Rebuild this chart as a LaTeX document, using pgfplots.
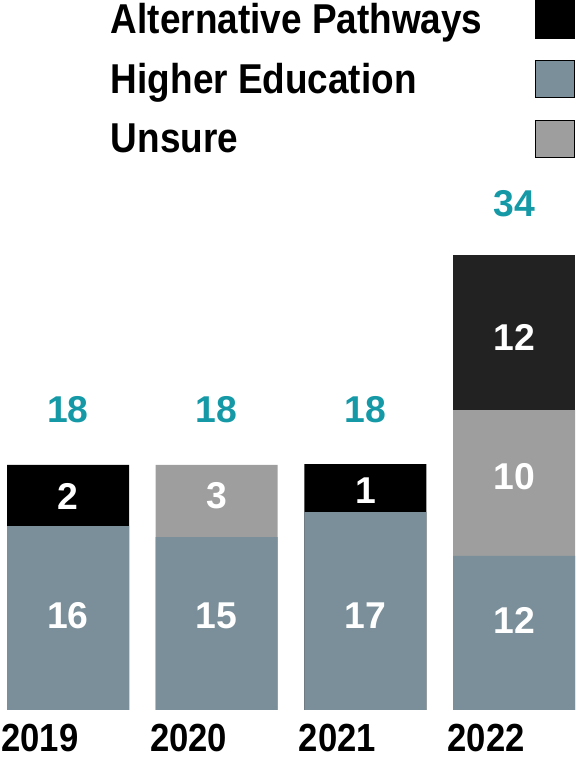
\documentclass[border=0pt]{standalone}
\usepackage{fontspec}
\setmainfont{Liberation Sans}
\usepackage{graphicx}
\usepackage{pgfplots}
\pgfplotsset{compat=1.18}
\definecolor{alt}{HTML}{000000}
\definecolor{altdark}{HTML}{222222}
\definecolor{hied}{HTML}{7A8F99}
\definecolor{unsure}{HTML}{9E9E9E}
\definecolor{tealc}{HTML}{1599A7}
\newcommand\vs[1]{\scalebox{1}[1.13]{#1}}
\begin{document}
\begin{tikzpicture}
\begin{axis}[
 scale only axis, width=432.75pt, height=532.5pt,
 xmin=-0.4573, xmax=3.423, ymin=0, ymax=52.79,
 axis line style={draw=none}, major tick length=0pt,
 ytick=\empty, xtick={0,1,2,3},
 xticklabels={\vs{2019},\vs{2020},\vs{2021},\vs{2022}},
 xticklabel style={anchor=base, inner sep=0pt, yshift=-31.25pt, xshift=-21pt, font=\fontsize{26}{30}\selectfont\bfseries},
 clip=false,
 legend plot pos=right, legend cell align=left,
 legend image code/.code={\fill[#1] (0pt,-13.5pt) rectangle (29.25pt,14.65pt);},
 legend style={draw=none, fill=none, at={(axis description cs:1,1)}, anchor=north east, xshift=-1.5pt, yshift=0pt, inner sep=0pt, outer sep=0pt, row sep=16.3pt, column sep=39.75pt, nodes={inner sep=0pt, outer sep=0pt}, font=\fontsize{27.7}{32}\selectfont\bfseries},
]
% bars drawn as overlapping cumulative heights (top segment first)
\addplot[ybar, bar width=91.5pt, bar shift=0pt, fill=altdark, draw=none, forget plot] coordinates {(3,33.83)};
\addplot[ybar, bar width=91.5pt, bar shift=0pt, fill=alt, draw=none, forget plot] coordinates {(0,18.22) (2,18.29)};
\addplot[ybar, bar width=91.5pt, bar shift=0pt, fill=unsure, draw=none, forget plot] coordinates {(1,18.22) (3,22.30)};
\addplot[ybar, bar width=91.5pt, bar shift=0pt, fill=hied, draw=none, forget plot] coordinates {(0,13.68) (1,12.86) (2,14.72) (3,11.45)};
% segment value labels
\addplot[draw=none, mark=none, forget plot, nodes near coords, point meta=explicit symbolic,
  every node near coord/.style={anchor=center, inner sep=0pt, text=white, font=\fontsize{28}{30}\selectfont\bfseries}]
  coordinates {(0,6.99) [16] (1,6.99) [15] (2,6.99) [17] (3,6.69) [12]
               (0,15.91) [2] (1,15.91) [3] (2,16.32) [1] (3,17.32) [10] (3,27.73) [12]};
% totals
\addplot[draw=none, mark=none, forget plot, nodes near coords, point meta=explicit symbolic,
  every node near coord/.style={anchor=center, inner sep=0pt, text=tealc, font=\fontsize{28}{30}\selectfont\bfseries}]
  coordinates {(0,22.30) [18] (1,22.30) [18] (2,22.30) [18] (3,37.62) [34]};
\addlegendimage{fill=alt}\addlegendentry{\vs{Alternative Pathways}}
\addlegendimage{fill=hied}\addlegendentry{\vs{Higher Education}}
\addlegendimage{fill=unsure}\addlegendentry{\vs{Unsure}}
\coordinate (TL) at (rel axis cs:0,1);
\end{axis}
\pgfresetboundingbox
\path[use as bounding box] (TL) rectangle ++(432.75pt,-569.25pt);
\end{tikzpicture}
\end{document}
